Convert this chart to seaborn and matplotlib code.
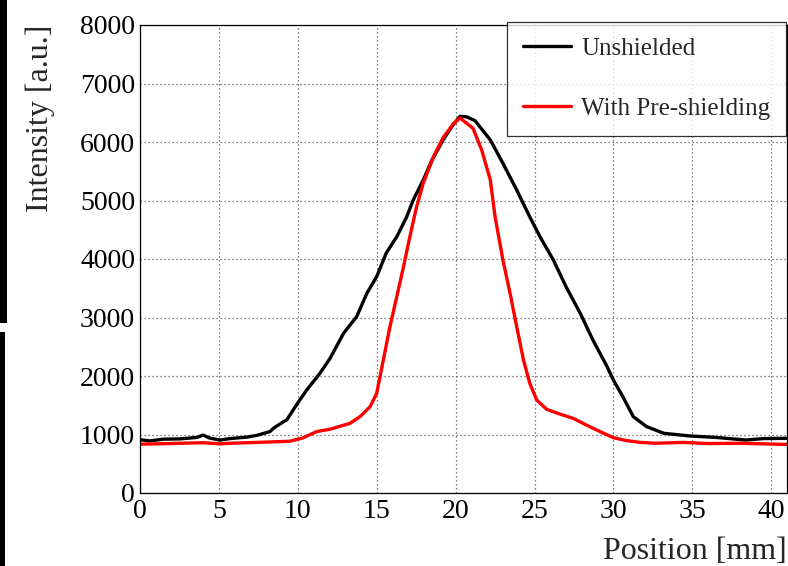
import numpy as np
import pandas as pd
import matplotlib
matplotlib.use("Agg")
import matplotlib.pyplot as plt
from matplotlib.patches import Rectangle
from matplotlib.lines import Line2D
from matplotlib.ticker import MultipleLocator
import seaborn as sns

# Beam profile scans: position [mm] vs intensity [a.u.]
unshielded_pos = [0, 0.63, 1.48, 2.53, 3.6, 4.0, 4.4, 5.07, 5.7, 6.76, 7.4, 8.24,
                  8.45, 9.1, 9.3, 9.9, 10.56, 11.4, 12.04, 12.9, 13.73, 14.37,
                  15.0, 15.6, 16.27, 16.9, 17.3, 17.95, 18.5, 19.2, 19.75, 20.28,
                  20.7, 21.23, 22.2, 23.0, 23.87, 24.7, 25.35, 26.2, 27.0, 27.9,
                  28.7, 29.6, 30.0, 30.6, 31.26, 32.1, 33.2, 34.85, 36.5, 38.4,
                  39.5, 41.0]
unshielded_int = [910, 890, 920, 925, 950, 990, 940, 905, 930, 955, 985, 1050,
                  1105, 1220, 1250, 1500, 1760, 2045, 2300, 2730, 3015, 3410,
                  3700, 4100, 4380, 4720, 5000, 5350, 5690, 6030, 6260, 6440,
                  6430, 6365, 6035, 5635, 5180, 4720, 4380, 3980, 3525, 3070,
                  2615, 2160, 1930, 1645, 1305, 1135, 1020, 975, 950, 905,
                  930, 935]

shielded_pos = [0, 1.0, 2.5, 4.0, 5.07, 5.7, 7.8, 9.5, 10.3, 11.2, 12.04, 13.3,
                13.94, 14.58, 15.0, 15.42, 15.84, 16.27, 16.7, 17.1, 17.53,
                17.95, 18.6, 19.2, 19.85, 20.28, 21.1, 21.65, 22.2, 22.5, 23.0,
                23.45, 23.87, 24.3, 24.7, 25.14, 25.77, 26.6, 27.46, 28.3,
                29.15, 30.0, 30.84, 31.7, 32.7, 34.4, 36.0, 38.0, 41.0]
shielded_int = [835, 840, 850, 860, 840, 850, 868, 885, 940, 1050, 1090, 1190,
                1305, 1475, 1705, 2275, 2845, 3355, 3870, 4380, 4895,
                5295, 5750, 6070, 6310, 6410, 6235, 5865, 5350, 4725, 3980,
                3415, 2845, 2275, 1875, 1590, 1430, 1350, 1275, 1160,
                1050, 945, 895, 865, 850, 865, 845, 850, 830]

series_names = ["Unshielded", "With Pre-shielding"]
series_colors = ["black", "red"]

df = pd.concat([
    pd.DataFrame({"pos": unshielded_pos, "val": unshielded_int, "series": series_names[0]}),
    pd.DataFrame({"pos": shielded_pos, "val": shielded_int, "series": series_names[1]}),
], ignore_index=True)

sns.set_theme(style="white")
plt.rcParams["font.family"] = ["Liberation Serif", "DejaVu Serif"]

W, H = 788, 566
fig = plt.figure(figsize=(W / 100, H / 100), dpi=100)
ax = fig.add_axes([140 / W, 1 - 493 / H, (787 - 140) / W, (493 - 25) / H])

sns.lineplot(data=df, x="pos", y="val", hue="series", hue_order=series_names,
             palette=dict(zip(series_names, series_colors)), sort=False,
             estimator=None, linewidth=2.4, legend=False, ax=ax)

ax.set_xlim(0, 41)
ax.set_ylim(0, 8000)
ax.xaxis.set_major_locator(MultipleLocator(5))
ax.xaxis.set_minor_locator(MultipleLocator(1))
ax.yaxis.set_major_locator(MultipleLocator(1000))
ax.yaxis.set_minor_locator(MultipleLocator(200))

ax.tick_params(axis="both", which="both", direction="in", colors="black",
               width=0.8, labelsize=20, top=False, right=False)
ax.tick_params(axis="x", which="major", length=15, pad=4)
ax.tick_params(axis="x", which="minor", length=7)
ax.tick_params(axis="y", which="major", length=18.5, pad=3.5)
ax.tick_params(axis="y", which="minor", length=9.3)

ax.grid(True, which="major", color="#555555", linestyle=(0, (1, 2.2)), linewidth=0.9)
for s in ax.spines.values():
    s.set_color("black")
    s.set_linewidth(0.9)

ax.set_xlabel("Position [mm]", fontsize=23, loc="right", labelpad=9.5)
ax.set_ylabel("Intensity [a.u.]", fontsize=23, loc="top", labelpad=18)

handles = [Line2D([], [], color=c, linewidth=2.4) for c in series_colors]
leg = fig.legend(handles, series_names, loc="upper right",
                 bbox_to_anchor=(786 / W, 1 - 22 / H), borderaxespad=0,
                 fontsize=18, frameon=True, fancybox=False, handlelength=1.95,
                 handletextpad=0.4, borderpad=0.62, labelspacing=1.5)
leg.get_frame().set_edgecolor("black")
leg.get_frame().set_linewidth(0.9)

# dark strips along the left edge
fig.patches.append(Rectangle((0, 1 - 323 / H), 7 / W, 323 / H, transform=fig.transFigure,
                             facecolor="black", edgecolor="none"))
fig.patches.append(Rectangle((0, 0), 5 / W, (H - 332) / H, transform=fig.transFigure,
                             facecolor="black", edgecolor="none"))

fig.savefig("out.png", dpi=100)
